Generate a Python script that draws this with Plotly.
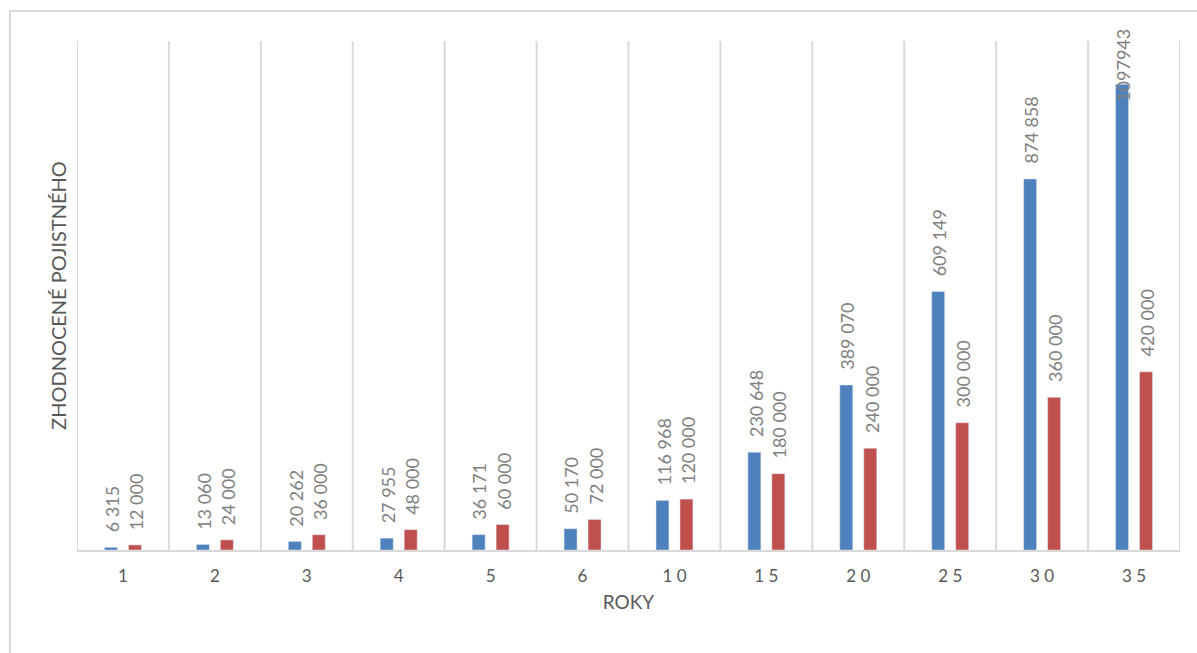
import plotly.graph_objects as go

# Policy years and the two compared series
roky = ["1", "2", "3", "4", "5", "6", "10", "15", "20", "25", "30", "35"]
zhodnocene = [6315, 13060, 20262, 27955, 36171, 50170, 116968, 230648, 389070, 609149, 874858, 1097943]
zaplacene = [12000, 24000, 36000, 48000, 60000, 72000, 120000, 180000, 240000, 300000, 360000, 420000]
tick_labels = ["1", "2", "3", "4", "5", "6", "1 0", "1 5", "2 0", "2 5", "3 0", "3 5"]

BLUE = "#4F81BD"
RED = "#C0504D"
GRID = "#D9D9D9"
FONT = "Lato, 'Open Sans', sans-serif"
Y_MAX = 1200000


def fmt(v):
    s = f"{v:,}".replace(",", " ")
    # values above a million are printed without grouping
    return str(v) if v >= 1000000 else s


fig = go.Figure()
fig.add_trace(go.Bar(x=roky, y=zhodnocene, marker_color=BLUE, name="Zhodnocené"))
fig.add_trace(go.Bar(x=roky, y=zaplacene, marker_color=RED, name="Zaplacené"))

annotations = []
for series, shift in ((zhodnocene, -11), (zaplacene, 13)):
    for i, v in enumerate(series):
        # keep labels that would run past the top edge pulled down onto the bar
        ys = 13 if v < 0.85 * Y_MAX else -20
        annotations.append(dict(
            x=i, y=v, xref="x", yref="y", text=fmt(v), showarrow=False,
            textangle=-90, yanchor="bottom", xanchor="center",
            xshift=shift, yshift=ys,
            font=dict(family=FONT, size=18, color="#808080"),
        ))

# vertical separators between categories
separators = [dict(type="line", xref="x", yref="paper", x0=i - 0.5, x1=i - 0.5, y0=0, y1=1,
                   line=dict(color=GRID, width=2), layer="below")
              for i in range(len(roky) + 1)]

fig.update_layout(
    width=1197, height=653,
    margin=dict(l=77, r=17, t=41, b=103),
    paper_bgcolor="white", plot_bgcolor="white",
    barmode="group", bargap=0.478, bargroupgap=0.458,
    showlegend=False,
    annotations=annotations,
    font=dict(family=FONT, color="#595959"),
    shapes=separators + [dict(type="rect", xref="paper", yref="paper",
                              x0=(10 - 77) / 1103, x1=(1210 - 77) / 1103,
                              y0=(550 - 670) / 509, y1=(550 - 11) / 509,
                              line=dict(color=GRID, width=2), layer="below")],
)

fig.update_xaxes(
    type="category", range=[-0.5, len(roky) - 0.5],
    tickmode="array", tickvals=roky, ticktext=tick_labels,
    tickfont=dict(family=FONT, size=17, color="#595959"),
    showgrid=False, showline=True, linecolor=GRID, linewidth=2,
    ticks="", ticklabelstandoff=10,
    title=dict(text="ROKY", font=dict(family=FONT, size=19, color="#595959"), standoff=10),
)

fig.update_yaxes(
    range=[0, Y_MAX], showgrid=False, showticklabels=False, zeroline=False,
    title=dict(text="ZHODNOCENÉ POJISTNÉHO", font=dict(family=FONT, size=20, color="#595959"), standoff=4),
)

fig.write_html("out.html")
